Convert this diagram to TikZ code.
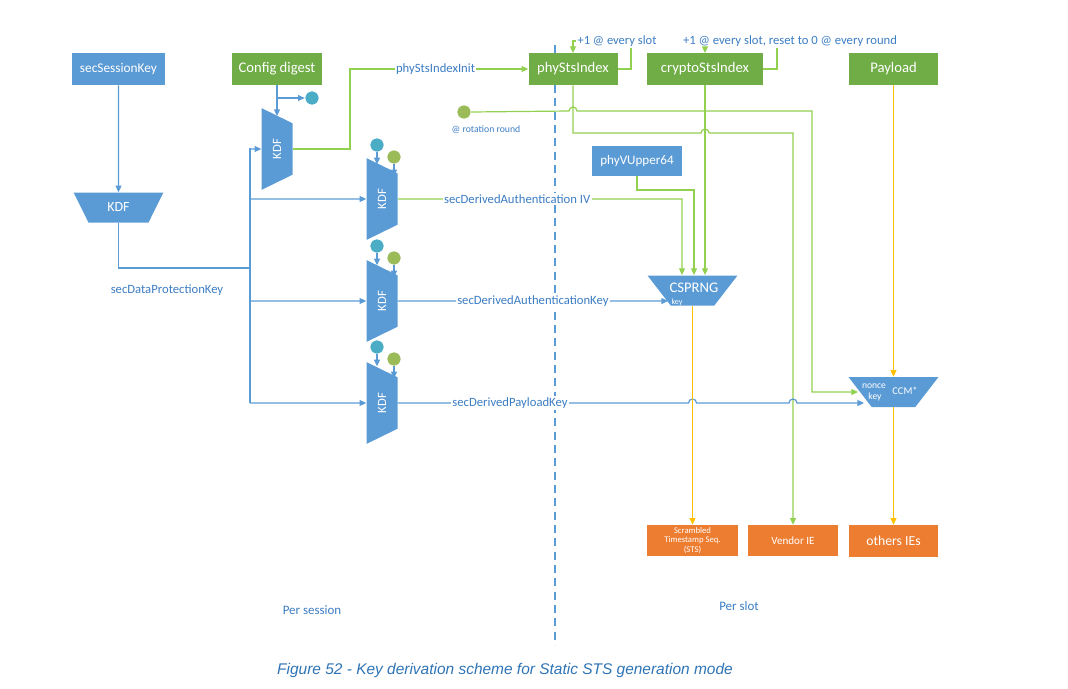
\documentclass[tikz,border=0pt]{standalone}
\usepackage{fontspec}
\setmainfont{Carlito}
\newfontfamily\capf{Liberation Sans}
\usetikzlibrary{shapes.geometric,arrows.meta,calc}
\definecolor{bl}{HTML}{5B9BD5}
\definecolor{gb}{HTML}{70AD47}
\definecolor{gl}{HTML}{92D050}
\definecolor{ob}{HTML}{ED7D31}
\definecolor{yl}{HTML}{FFC000}
\definecolor{tl}{HTML}{4BACC6}
\definecolor{gc}{HTML}{9BBB59}
\definecolor{lb}{HTML}{3C7DC4}
\definecolor{cap}{HTML}{2E74B5}
\begin{document}
\begin{tikzpicture}[x=0.75pt,y=-0.75pt,
  tip/.style={-{Triangle[length=5pt,width=4.5pt]}},
  box/.style={rectangle,text=white,inner sep=0pt,font=\fontsize{11}{13}\selectfont},
  bbox/.style={box,fill=bl},
  gbox/.style={box,fill=gb},
  obox/.style={box,fill=ob},
  bline/.style={draw=bl,line width=0.9pt},
  gline/.style={draw=gl,line width=0.9pt},
  oline/.style={draw=yl,line width=0.9pt},
  lbl/.style={text=lb,fill=white,inner sep=1pt,font=\fontsize{9.5}{11}\selectfont},
  trap/.style={trapezium,trapezium stretches=true,fill=bl,text=white,inner sep=1pt,
     shape border rotate=180,font=\fontsize{10.5}{12}\selectfont},
  vkdf/.style={trap,rotate=90,minimum width=82*0.75pt,minimum height=31*0.75pt,trapezium angle=58,font=\fontsize{9.5}{11}\selectfont},
  htrap/.style={trap,minimum width=90*0.75pt,minimum height=30*0.75pt,trapezium angle=62},
  dot/.style={circle,minimum size=14*0.75pt,inner sep=0pt,draw=white,line width=0.5pt},
]
\useasboundingbox (0,0) rectangle (1068,689);
\draw[bl,line width=0.8pt,dash pattern=on 6pt off 4pt] (555,45) -- (555,645);

% boxes
\node[bbox,minimum width=93*0.75pt,minimum height=32*0.75pt,font=\fontsize{10}{12}\selectfont] (ssk) at (118.5,69) {secSessionKey};
\node[gbox,minimum width=90*0.75pt,minimum height=32*0.75pt] (cfg) at (277,69) {Config digest};
\node[gbox,minimum width=89*0.75pt,minimum height=32*0.75pt] (psi) at (573,69) {phyStsIndex};
\node[gbox,minimum width=116*0.75pt,minimum height=32*0.75pt] (csi) at (705,69) {cryptoStsIndex};
\node[gbox,minimum width=89*0.75pt,minimum height=32*0.75pt] (pay) at (893.5,69) {Payload};
\node[bbox,minimum width=90*0.75pt,minimum height=30*0.75pt,font=\fontsize{9.8}{11}\selectfont] (pvu) at (637,161) {phyVUpper64};
\node[obox,minimum width=91*0.75pt,minimum height=31*0.75pt,align=center,font=\fontsize{6.5}{7.2}\selectfont] (sts) at (692.5,540.5) {Scrambled\\Timestamp Seq.\\(STS)};
\node[obox,minimum width=90*0.75pt,minimum height=31*0.75pt,font=\fontsize{8.3}{10}\selectfont] (vie) at (793,540.5) {Vendor IE};
\node[obox,minimum width=89*0.75pt,minimum height=32*0.75pt,font=\fontsize{10.3}{12}\selectfont] (oie) at (893.5,541) {others IEs};

% trapezia
\node[htrap] (kdf0) at (118.5,207.5) {KDF};
\node[vkdf] (kdf1) at (277,149) {KDF};
\node[vkdf] (kdf2) at (382,199) {KDF};
\node[vkdf] (kdf3) at (382,301) {KDF};
\node[vkdf] (kdf4) at (382,403) {KDF};
\node[htrap] (csp) at (692.5,290.5) {};
\node[text=white,font=\fontsize{11}{12}\selectfont] (cspt) at (694,288) {CSPRNG};
\node[text=white,font=\fontsize{6}{7}\selectfont,inner sep=0pt] (cspk) at (677,302) {key};
\node[htrap] (ccm) at (893.5,392) {};
\node[text=white,font=\fontsize{7.8}{9}\selectfont,inner sep=0pt] (ccmt) at (905,391) {CCM*};
\node[text=white,font=\fontsize{7.2}{8}\selectfont,inner sep=0pt] (ccmn) at (874,386) {nonce};
\node[text=white,font=\fontsize{7.2}{8}\selectfont,inner sep=0pt] (ccmk) at (875,397) {key};

% circles
\node[dot,fill=tl] (t0) at (312,98) {};
\node[dot,fill=tl] (t2) at (377,145) {};
\node[dot,fill=gc] (g2) at (394,157) {};
\node[dot,fill=tl] (t3) at (377,246) {};
\node[dot,fill=gc] (g3) at (394,258) {};
\node[dot,fill=tl] (t4) at (377,347) {};
\node[dot,fill=gc] (g4) at (394,359) {};
\node[dot,fill=gc] (gr) at (464,112) {};
\node[text=lb,font=\fontsize{7.3}{8}\selectfont] (grl) at (486,130) {@ rotation round};

% left side
\draw[bline,tip] (ssk.south) -- (kdf0.north);
\draw[bline] (kdf0.south) |- (250,268);
\draw[bline] (250,148) -- (250,403);
\draw[bline,tip] (250,149) -- (kdf1.north);
\draw[bline,tip] (250,199) -- (kdf2.north);
\draw[bline,tip] (250,301) -- (kdf3.north);
\draw[bline,tip] (250,403) -- (kdf4.north);
\node[text=lb,font=\fontsize{9.5}{11}\selectfont] (sdpk) at (167,290) {secDataProtectionKey};
\draw[bline,tip] (cfg.south) -- (cfg.south |- 0,116);
\draw[bline,tip] (277,98) -- (t0.west);
\foreach \i in {2,3,4}{
  \draw[bline,tip] (t\i.south) -- ($(t\i.south)+(0,12)$);
  \draw[bline,tip] (g\i.south) -- ($(g\i.south)+(0,12)$);
}

% green wiring
\draw[gline,tip] (kdf1.south) -| (350,69) -- node[lbl,pos=0.48]{phyStsIndexInit} (psi.west);
\node[text=lb,font=\fontsize{9.4}{11}\selectfont,inner sep=1pt] (l1) at (617,41) {+1 @ every slot};
\draw[gline] (psi.east) -| (631,48);
\draw[gline,tip] (l1.west) -| (573,53);
\node[text=lb,font=\fontsize{9.5}{11}\selectfont,inner sep=1pt] (l2) at (790,41) {+1 @ every slot, reset to 0 @ every round};
\draw[gline] (csi.east) -| (777,48);
\draw[gline,tip] (705,47) -- (705,53);
\draw[gline,tip] (kdf2.south) -- node[lbl,pos=0.42]{secDerivedAuthentication IV} (682,199) -- (682,275);
\draw[gline,tip] (pvu.south) |- (694,190) -- (694,275);
\draw[gline,tip] (csi.south) -- (705,275);
\draw[gline,tip] (gr.east) -- (569,111) arc(180:360:4) -- (812,111) |- (858,392);
\draw[gline,tip] (psi.south) |- (701,133) arc(180:360:4) -- (793,133) -- (vie.north);

% blue keys
\draw[bline,tip] (kdf3.south) -- node[lbl,pos=0.5]{secDerivedAuthenticationKey} (668,301);
\draw[bline,tip] (kdf4.south) -- (688.5,403) arc(180:360:4) -- (789,403) arc(180:360:4) -- (864,403);
\node[lbl] (sdpl) at (510,403) {secDerivedPayloadKey};

% orange
\draw[oline,tip] (csp.south) -- (sts.north);
\draw[oline,tip] (pay.south) -- (ccm.north);
\draw[oline,tip] (ccm.south) -- (oie.north);

\node[text=lb,font=\fontsize{9.7}{11}\selectfont] (ps) at (312,610) {Per session};
\node[text=lb,font=\fontsize{9.7}{11}\selectfont] (pl) at (739,606) {Per slot};
\node[text=cap,font=\capf\itshape\fontsize{11.6}{13}\selectfont] (capt) at (505,670) {Figure 52 - Key derivation scheme for Static STS generation mode};
\end{tikzpicture}
\end{document}
